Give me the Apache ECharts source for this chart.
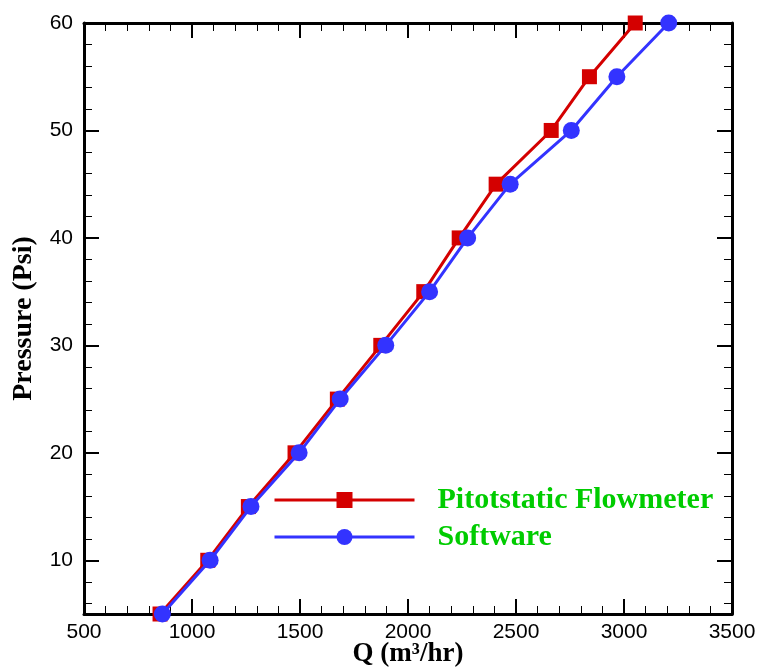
<!DOCTYPE html>
<html>
<head>
<meta charset="utf-8">
<title>Pressure vs Q</title>
<script src="https://cdn.jsdelivr.net/npm/echarts@6/dist/echarts.min.js"></script>
<style>
  html, body { margin: 0; padding: 0; background: #ffffff; }
  #chart { width: 759px; height: 668px; }
</style>
</head>
<body>
<div id="chart"></div>
<script>
// Pressure levels (Psi) shared by both data sets
const pressure = [5, 10, 15, 20, 25, 30, 35, 40, 45, 50, 55, 60];
// Flow rate Q (m3/hr) measured with the pitot-static flowmeter
const qPitot = [852, 1073, 1261, 1477, 1673, 1874, 2073, 2237, 2408, 2663, 2840, 3052];
// Flow rate Q (m3/hr) predicted by the software
const qSoftware = [863, 1084, 1273, 1496, 1686, 1897, 2100, 2276, 2473, 2756, 2967, 3207];

// Axis ticks
const yMajorTicks = [10, 20, 30, 40, 50, 60];
const yMinorTicks = [6, 8, 12, 14, 16, 18, 22, 24, 26, 28, 32, 34, 36, 38, 42, 44, 46, 48, 52, 54, 56, 58];

const tickFont = { fontFamily: 'Liberation Sans', fontSize: 21, color: '#000' };
const titleFont = { fontFamily: 'Liberation Serif', fontWeight: 'bold', fontSize: 27, color: '#000' };

function xAxisDef(position, showLabels) {
  return {
    type: 'value', position: position, min: 500, max: 3500, interval: 500,
    axisLine: { show: true, onZero: false, lineStyle: { color: '#000', width: 3 } },
    axisTick: { show: true, inside: true, length: 15, lineStyle: { color: '#000', width: 2 } },
    minorTick: { show: true, splitNumber: 5, length: 8, lineStyle: { color: '#000', width: 1 } },
    splitLine: { show: false },
    minorSplitLine: { show: false },
    axisLabel: Object.assign({ show: showLabels, margin: 8, formatter: v => String(v) }, tickFont)
  };
}

function yMajorAxis(position, showLabels) {
  return {
    type: 'value', position: position, min: 5, max: 60,
    axisLine: { show: true, onZero: false, lineStyle: { color: '#000', width: 3 } },
    axisTick: { show: true, inside: true, length: 15, customValues: yMajorTicks,
                lineStyle: { color: '#000', width: 2 } },
    splitLine: { show: false },
    axisLabel: Object.assign({ show: showLabels, margin: 11, customValues: yMajorTicks }, tickFont)
  };
}

function yMinorAxis(position) {
  return {
    type: 'value', position: position, min: 5, max: 60,
    axisLine: { show: false },
    axisTick: { show: true, inside: true, length: 8, customValues: yMinorTicks,
                lineStyle: { color: '#000', width: 1 } },
    splitLine: { show: false },
    axisLabel: { show: false }
  };
}

const xBottom = xAxisDef('bottom', true);
xBottom.name = 'Q (m³/hr)';
xBottom.nameLocation = 'middle';
xBottom.nameGap = 27;
xBottom.nameMoveOverlap = false;
xBottom.nameTextStyle = titleFont;

const yLeft = yMajorAxis('left', true);
yLeft.name = 'Pressure (Psi)';
yLeft.nameLocation = 'middle';
yLeft.nameGap = 46;
yLeft.nameMoveOverlap = false;
yLeft.nameTextStyle = Object.assign({}, titleFont, { fontSize: 28 });

const chart = echarts.init(document.getElementById('chart'), null, { renderer: 'canvas' });
chart.setOption({
  backgroundColor: '#ffffff',
  animation: false,
  grid: { left: 84, right: 27, top: 23, bottom: 54, containLabel: false, outerBoundsMode: 'none' },
  xAxis: [xBottom, xAxisDef('top', false)],
  yAxis: [yLeft, yMajorAxis('right', false), yMinorAxis('left'), yMinorAxis('right')],
  legend: {
    orient: 'vertical', left: 273, top: 485, padding: 0,
    itemWidth: 140, itemHeight: 20, itemGap: 7,
    lineStyle: { width: 3 },
    textStyle: { fontFamily: 'Liberation Serif', fontWeight: 'bold', fontSize: 30, color: '#00cc00', padding: [0, 0, 0, 18] },
    data: ['Pitotstatic Flowmeter', 'Software']
  },
  series: [
    {
      name: 'Pitotstatic Flowmeter', type: 'line',
      data: pressure.map((p, i) => [qPitot[i], p]),
      symbol: 'rect', symbolSize: 15,
      lineStyle: { color: '#d40000', width: 3 },
      itemStyle: { color: '#d40000' },
      clip: false, z: 2
    },
    {
      name: 'Software', type: 'line',
      data: pressure.map((p, i) => [qSoftware[i], p]),
      symbol: 'circle', symbolSize: 17,
      lineStyle: { color: '#3333ff', width: 3 },
      itemStyle: { color: '#3333ff' },
      clip: false, z: 3
    }
  ]
});
</script>
</body>
</html>
